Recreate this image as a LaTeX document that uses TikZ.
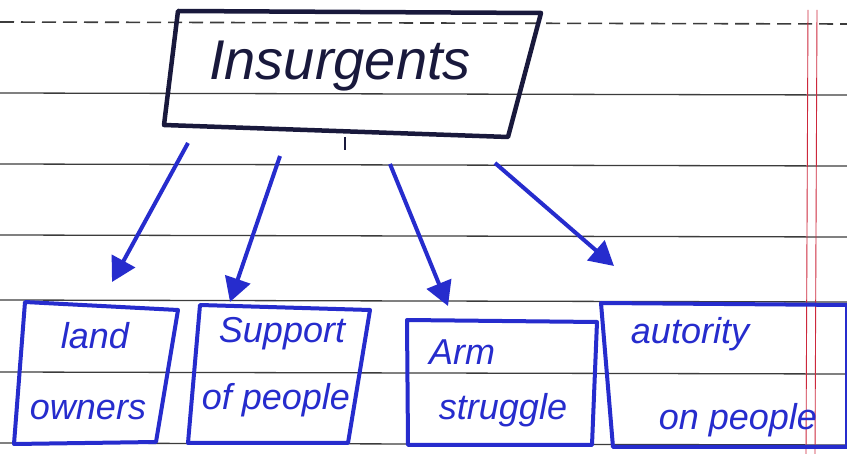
\documentclass[tikz,border=0pt]{standalone}
\usepackage{fontspec}
\setmainfont{Liberation Sans}
\usetikzlibrary{arrows.meta}
\definecolor{ink}{RGB}{38,44,205}
\definecolor{darkink}{RGB}{25,25,60}
\definecolor{rule}{RGB}{60,60,60}
\definecolor{margin}{RGB}{205,40,60}
\begin{document}
\begin{tikzpicture}[x=1pt,y=-1pt,
  ruleline/.style={rule, line width=1.3pt},
  boxline/.style={ink, line width=4pt, line join=round},
  label/.style={ink, font=\fontsize{36}{40}\selectfont\itshape, inner sep=0pt},
  arrowline/.style={ink, line width=4pt, -{Triangle[length=24pt,width=26pt]}}]
  \useasboundingbox (0,0) rectangle (847,454);
  \fill[white] (0,0) rectangle (847,454);
  % ruled paper
  \draw[rule, line width=1.6pt, dash pattern=on 14pt off 7pt] (0,22) -- (847,24);
  \foreach \y in {93,164,235,300,372,443}
    \draw[ruleline] (0,\y) -- (847,\y+2);
  \draw[margin, line width=0.9pt] (808,10) -- (806,454);
  \draw[margin, line width=0.9pt] (817,10) -- (815,454);
  % top box
  \draw[darkink, line width=4.5pt, line join=round]
    (178,11) -- (541,13) -- (508,137) -- (164,125) -- cycle;
  \node[darkink, font=\fontsize{56}{60}\selectfont\itshape, inner sep=0pt] (ins) at (340,66) {Insurgents};
  % bottom boxes
  \draw[boxline] (25,302) -- (178,310) -- (156,442) -- (14,444) -- cycle;
  \draw[boxline] (200,305) -- (370,310) -- (348,443) -- (188,443) -- cycle;
  \draw[boxline] (407,320) -- (597,322) -- (592,445) -- (408,445) -- cycle;
  \draw[boxline] (601,303) -- (847,305) -- (847,447) -- (613,447) -- cycle;
  \node[label] (landa) at (95,336) {land};
  \node[label] (landb) at (88,410) {owners};
  \node[label] (supa) at (282,334) {Support};
  \node[label] (supb) at (276,400) {of people};
  \node[label] (arma) at (462,352) {Arm};
  \node[label] (armb) at (503,410) {struggle};
  \node[label] (auta) at (690,334) {autority};
  \node[label] (autb) at (738,420) {on people};
  % arrow ends
  \coordinate (s1) at (188,143);
  \coordinate (s2) at (280,156);
  \coordinate (s3) at (390,164);
  \coordinate (s4) at (495,163);
  \coordinate (e1) at (112,282);
  \coordinate (e2) at (230,302);
  \coordinate (e3) at (448,306);
  \coordinate (e4) at (614,266);
  \draw[arrowline] (s1) -- (e1);
  \draw[arrowline] (s2) -- (e2);
  \draw[arrowline] (s3) -- (e3);
  \draw[arrowline] (s4) -- (e4);
  \draw[darkink, line width=2.5pt] (345,137) -- (345,150);
\end{tikzpicture}
\end{document}
